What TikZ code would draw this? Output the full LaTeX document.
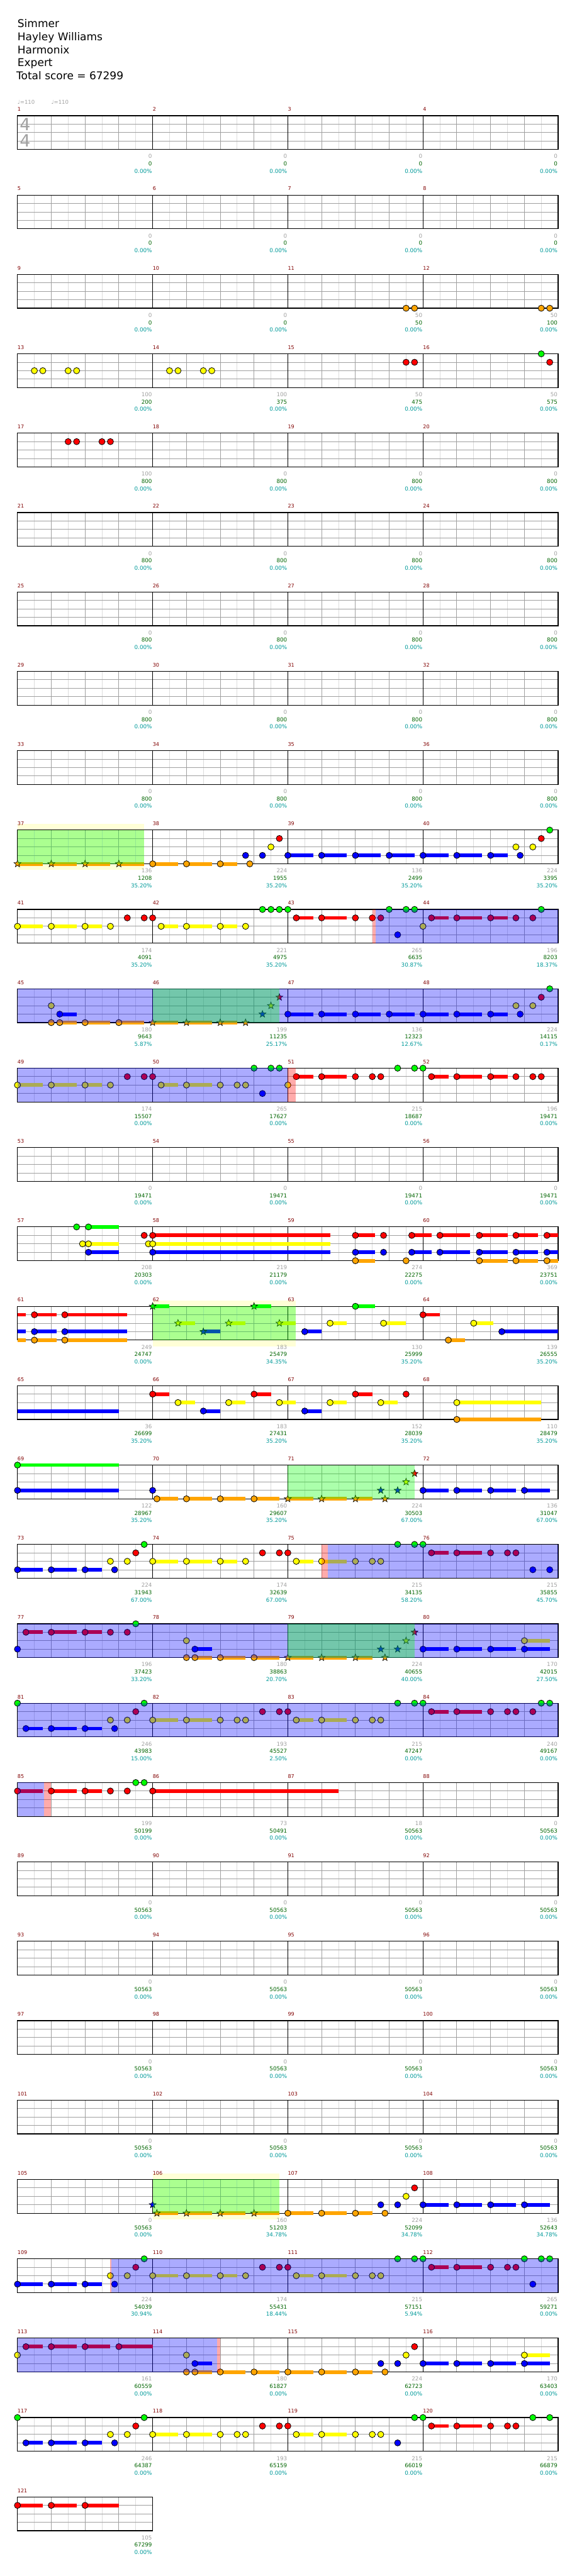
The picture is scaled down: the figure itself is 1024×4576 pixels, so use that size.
\documentclass[tikz,border=0pt]{standalone}
\usepackage{fontspec}
\setmainfont{DejaVu Sans}
\pgfdeclarelayer{yb}\pgfdeclarelayer{grid}\pgfdeclarelayer{sus}\pgfdeclarelayer{over}
\pgfsetlayers{yb,grid,sus,main,over}
\definecolor{nG}{RGB}{0,255,0}
\definecolor{nR}{RGB}{255,0,0}
\definecolor{nY}{RGB}{255,255,0}
\definecolor{nB}{RGB}{0,0,255}
\definecolor{nO}{RGB}{255,165,0}
\definecolor{lgray}{RGB}{160,160,160}
\definecolor{llgray}{RGB}{220,220,220}
\definecolor{mred}{RGB}{128,0,0}
\definecolor{sgreen}{RGB}{0,100,0}
\definecolor{steal}{RGB}{0,153,153}
\definecolor{tgray}{RGB}{160,160,160}
\definecolor{ybcol}{RGB}{255,255,215}
\newcommand\setm[1]{\pgfmathsetmacro\mX{31+240*mod(#1-1,4)}\pgfmathsetmacro\mT{205.5+141*floor((#1-1)/4)}}
\newcommand\nt[4]{\setm{#1}\draw[line width=0.9pt,fill=#4] ({\mX+15*#2},{\mT+15*#3}) circle (5.5);}
\newcommand\su[5]{\setm{#1}\begin{pgfonlayer}{sus}\fill[#5] ({\mX+15*#2},{\mT+15*#4-3.3}) rectangle ({\mX+15*#3},{\mT+15*#4+3.3});\end{pgfonlayer}}
\newcommand\stn[4]{\setm{#1}\draw[line width=0.7pt,fill=#4] ({\mX+15*#2},{\mT+15*#3}) +(-90:6.5) -- +(-54:2.7) -- +(-18:6.5) -- +(18:2.7) -- +(54:6.5) -- +(90:2.7) -- +(126:6.5) -- +(162:2.7) -- +(198:6.5) -- +(234:2.7) -- cycle;}
\newcommand\ov[4]{\setm{#1}\begin{pgfonlayer}{over}\fill[#4,opacity=0.33] ({\mX+15*#2},\mT) rectangle ({\mX+15*#3},{\mT+60});\end{pgfonlayer}}
\newcommand\yb[3]{\setm{#1}\begin{pgfonlayer}{yb}\fill[ybcol] ({\mX+15*#2},{\mT-10.7}) rectangle ({\mX+15*#3},{\mT+71});\end{pgfonlayer}}
\newcommand\nG[2]{\nt{#1}{#2}{0}{nG}}
\newcommand\nR[2]{\nt{#1}{#2}{1}{nR}}
\newcommand\nY[2]{\nt{#1}{#2}{2}{nY}}
\newcommand\nB[2]{\nt{#1}{#2}{3}{nB}}
\newcommand\nO[2]{\nt{#1}{#2}{4}{nO}}
\newcommand\sG[3]{\su{#1}{#2}{#3}{0}{nG}}
\newcommand\sR[3]{\su{#1}{#2}{#3}{1}{nR}}
\newcommand\sY[3]{\su{#1}{#2}{#3}{2}{nY}}
\newcommand\sB[3]{\su{#1}{#2}{#3}{3}{nB}}
\newcommand\sO[3]{\su{#1}{#2}{#3}{4}{nO}}
\newcommand\xG[2]{\stn{#1}{#2}{0}{nG}}
\newcommand\xR[2]{\stn{#1}{#2}{1}{nR}}
\newcommand\xY[2]{\stn{#1}{#2}{2}{nY}}
\newcommand\xB[2]{\stn{#1}{#2}{3}{nB}}
\newcommand\xO[2]{\stn{#1}{#2}{4}{nO}}
\newcommand\grow[2]{\setm{#1}%
\begin{pgfonlayer}{grid}%
\pgfmathtruncatemacro\gnl{8*#2-1}%
\pgfmathtruncatemacro\gnb{4*#2-1}%
\foreach \k in {1,3,...,\gnl} {\draw[llgray,line width=1pt] ({\mX+30*\k},\mT) -- ({\mX+30*\k},{\mT+60});}
\foreach \j in {1,2,3} {\draw[lgray,line width=1pt] (\mX,{\mT+15*\j}) -- ({\mX+240*#2},{\mT+15*\j});}
\foreach \k in {1,...,\gnb} {\draw[lgray,line width=1pt] ({\mX+60*\k},\mT) -- ({\mX+60*\k},{\mT+60});}
\ifnum#2>1 \pgfmathtruncatemacro\gnm{#2-1}\foreach \k in {1,...,\gnm} {\draw[black,line width=1pt] ({\mX+240*\k},\mT) -- ({\mX+240*\k},{\mT+60});}\fi
\draw[black,line width=1.3pt] (\mX,\mT) rectangle ({\mX+240*#2},{\mT+60});
\end{pgfonlayer}}
\tikzset{lbl/.style={inner sep=0pt,font=\fontsize{9.8}{10}\selectfont},
 mnum/.style={inner sep=0pt,text=mred,font=\fontsize{9}{10}\selectfont},
 ttl/.style={inner sep=0pt,anchor=base west,font=\fontsize{19}{20}\selectfont}}
\newcommand\lab[4]{\setm{#1}%
\node[lbl,text=tgray,anchor=base east] (a#1) at ({\mX+239},{\mT+76}) {#2};
\node[lbl,text=sgreen,anchor=base east] (b#1) at ({\mX+239},{\mT+89}) {#3};
\node[lbl,text=steal,anchor=base east] (c#1) at ({\mX+239},{\mT+102}) {#4\%};
\node[mnum,anchor=base west] (m#1) at (\mX,{\mT-8}) {#1};}
\begin{document}
\begin{tikzpicture}[x=1pt,y=-1pt]
\useasboundingbox (0,0) rectangle (1024,4576);
% title
\node[ttl] (t1) at (31,49) {Simmer};
\node[ttl] (t2) at (31,72) {Hayley Williams};
\node[ttl] (t3) at (31,95) {Harmonix};
\node[ttl] (t4) at (31,118) {Expert};
\node[ttl] (t5) at (29,141) {Total score = 67299};
\node[lbl,text=tgray,anchor=base west,font=\fontsize{9.5}{10}\selectfont] (tp1) at (31,185) {♩=110};
\node[lbl,text=tgray,anchor=base west,font=\fontsize{9.5}{10}\selectfont] (tp2) at (91,185) {♩=110};
\node[text=tgray,inner sep=0pt,font=\fontsize{30}{30}\selectfont] (ts1) at (44.5,220.5) {4};
\node[text=tgray,inner sep=0pt,font=\fontsize{30}{30}\selectfont] (ts2) at (44.5,250) {4};
% grids
\foreach \r in {0,...,29} {\grow{\r*4+1}{4}}
\grow{121}{1}
% labels
\foreach \m in {1,...,10} {\lab{\m}{0}{0}{0.00}}
\lab{11}{50}{50}{0.00}\lab{12}{50}{100}{0.00}
\lab{13}{100}{200}{0.00}\lab{14}{100}{375}{0.00}\lab{15}{50}{475}{0.00}\lab{16}{50}{575}{0.00}
\lab{17}{100}{800}{0.00}
\foreach \m in {18,...,36} {\lab{\m}{0}{800}{0.00}}
\lab{37}{136}{1208}{35.20}\lab{38}{224}{1955}{35.20}\lab{39}{136}{2499}{35.20}\lab{40}{224}{3395}{35.20}
\lab{41}{174}{4091}{35.20}\lab{42}{221}{4975}{35.20}\lab{43}{265}{6635}{30.87}\lab{44}{196}{8203}{18.37}
\lab{45}{180}{9643}{5.87}\lab{46}{199}{11235}{25.17}\lab{47}{136}{12323}{12.67}\lab{48}{224}{14115}{0.17}
\lab{49}{174}{15507}{0.00}\lab{50}{265}{17627}{0.00}\lab{51}{215}{18687}{0.00}\lab{52}{196}{19471}{0.00}
\foreach \m in {53,...,56} {\lab{\m}{0}{19471}{0.00}}
\lab{57}{208}{20303}{0.00}\lab{58}{219}{21179}{0.00}\lab{59}{274}{22275}{0.00}\lab{60}{369}{23751}{0.00}
\lab{61}{249}{24747}{0.00}\lab{62}{183}{25479}{34.35}\lab{63}{130}{25999}{35.20}\lab{64}{139}{26555}{35.20}
\lab{65}{36}{26699}{35.20}\lab{66}{183}{27431}{35.20}\lab{67}{152}{28039}{35.20}\lab{68}{110}{28479}{35.20}
\lab{69}{122}{28967}{35.20}\lab{70}{160}{29607}{35.20}\lab{71}{224}{30503}{67.00}\lab{72}{136}{31047}{67.00}
\lab{73}{224}{31943}{67.00}\lab{74}{174}{32639}{67.00}\lab{75}{215}{34135}{58.20}\lab{76}{215}{35855}{45.70}
\lab{77}{196}{37423}{33.20}\lab{78}{180}{38863}{20.70}\lab{79}{224}{40655}{40.00}\lab{80}{170}{42015}{27.50}
\lab{81}{246}{43983}{15.00}\lab{82}{193}{45527}{2.50}\lab{83}{215}{47247}{0.00}\lab{84}{240}{49167}{0.00}
\lab{85}{199}{50199}{0.00}\lab{86}{73}{50491}{0.00}\lab{87}{18}{50563}{0.00}\lab{88}{0}{50563}{0.00}
\foreach \m in {89,...,105} {\lab{\m}{0}{50563}{0.00}}
\lab{106}{160}{51203}{34.78}\lab{107}{224}{52099}{34.78}\lab{108}{136}{52643}{34.78}
\lab{109}{224}{54039}{30.94}\lab{110}{174}{55431}{18.44}\lab{111}{215}{57151}{5.94}\lab{112}{265}{59271}{0.00}
\lab{113}{161}{60559}{0.00}\lab{114}{180}{61827}{0.00}\lab{115}{224}{62723}{0.00}\lab{116}{170}{63403}{0.00}
\lab{117}{246}{64387}{0.00}\lab{118}{193}{65159}{0.00}\lab{119}{215}{66019}{0.00}\lab{120}{215}{66879}{0.00}
\lab{121}{105}{67299}{0.00}
% ---- notes ----
\nO{11}{14}\nO{11}{15}\nO{12}{14}\nO{12}{15}
\nY{13}{2}\nY{13}{3}\nY{13}{6}\nY{13}{7}
\nY{14}{2}\nY{14}{3}\nY{14}{6}\nY{14}{7}
\nR{15}{14}\nR{15}{15}
\nG{16}{14}\nR{16}{15}
\nR{17}{6}\nR{17}{7}\nR{17}{10}\nR{17}{11}
% row 10
\yb{37}{0}{15}\ov{37}{0}{15}{nG}
\sO{37}{0}{3}\sO{37}{4}{7}\sO{37}{8}{11}\sO{37}{12}{15}
\xO{37}{0}\xO{37}{4}\xO{37}{8}\xO{37}{12}
\sO{38}{0}{3}\sO{38}{4}{7}\sO{38}{8}{10}\nO{38}{0}\nO{38}{4}\nO{38}{8}\nO{38}{11.5}\nB{38}{11}\nB{38}{13}\nY{38}{14}\nR{38}{15}
\sB{39}{0}{3}\sB{39}{4}{7}\sB{39}{8}{11}\sB{39}{12}{15}\nB{39}{0}\nB{39}{4}\nB{39}{8}\nB{39}{12}
\sB{40}{0}{3}\sB{40}{4}{7}\sB{40}{8}{10}\nB{40}{0}\nB{40}{4}\nB{40}{8}\nY{40}{11}\nB{40}{11.5}\nY{40}{13}\nR{40}{14}\nG{40}{15}
% row 11
\sY{41}{0}{3}\sY{41}{4}{7}\sY{41}{8}{10}\nY{41}{0}\nY{41}{4}\nY{41}{8}\nY{41}{11}\nR{41}{13}\nR{41}{15}
\nR{42}{0}\sY{42}{1}{3}\sY{42}{4}{7}\sY{42}{8}{10}\nY{42}{1}\nY{42}{4}\nY{42}{8}\nY{42}{11}\nG{42}{13}\nG{42}{14}\nG{42}{15}
\nG{43}{0}\sR{43}{1}{3}\sR{43}{4}{7}\nR{43}{1}\nR{43}{4}\nR{43}{8}\nR{43}{10}\nR{43}{11}\nG{43}{12}\nB{43}{13}\nG{43}{14}\nG{43}{15}
\ov{43}{10}{10.4}{nR}\ov{43}{10.4}{32}{nB}
\nY{44}{0}\sR{44}{1}{3}\sR{44}{4}{7}\sR{44}{8}{10}\nR{44}{1}\nR{44}{4}\nR{44}{8}\nR{44}{11}\nR{44}{13}\nG{44}{14}
% row 12
\ov{45}{0}{64}{nB}\ov{46}{0}{15}{nG}
\nY{45}{4}\nO{45}{4}\sB{45}{5}{7}\sO{45}{5}{7}\nB{45}{5}\nO{45}{5}\sO{45}{8}{11}\nO{45}{8}\sO{45}{12}{15}\nO{45}{12}
\sO{46}{0}{3}\sO{46}{4}{7}\sO{46}{8}{10}\xO{46}{0}\xO{46}{4}\xO{46}{8}\xO{46}{11}\xB{46}{13}\xY{46}{14}\xR{46}{15}
\sB{47}{0}{3}\sB{47}{4}{7}\sB{47}{8}{11}\sB{47}{12}{15}\nB{47}{0}\nB{47}{4}\nB{47}{8}\nB{47}{12}
\sB{48}{0}{3}\sB{48}{4}{7}\sB{48}{8}{10}\nB{48}{0}\nB{48}{4}\nB{48}{8}\nY{48}{11}\nB{48}{11.5}\nY{48}{13}\nR{48}{14}\nG{48}{15}
% row 13
\ov{49}{0}{32}{nB}\ov{51}{0}{0.93}{nR}
\sY{49}{0}{3}\sY{49}{4}{7}\sY{49}{8}{10}\nY{49}{0}\nY{49}{4}\nY{49}{8}\nY{49}{11}\nR{49}{13}\nR{49}{15}
\nR{50}{0}\sY{50}{1}{3}\sY{50}{4}{7}\nY{50}{1}\nY{50}{4}\nY{50}{8}\nY{50}{10}\nY{50}{11}\nG{50}{12}\nB{50}{13}\nG{50}{14}\nG{50}{15}
\nY{51}{0}\sR{51}{1}{3}\sR{51}{4}{7}\nR{51}{1}\nR{51}{4}\nR{51}{8}\nR{51}{10}\nR{51}{11}\nG{51}{13}\nG{51}{15}
\nG{52}{0}\sR{52}{1}{3}\sR{52}{4}{7}\sR{52}{8}{10}\nR{52}{1}\nR{52}{4}\nR{52}{8}\nR{52}{11}\nR{52}{13}\nR{52}{14}
% row 15
\nG{57}{7}\nY{57}{7.7}\sG{57}{8.4}{12}\sY{57}{8.4}{12}\sB{57}{8.4}{12}\nG{57}{8.4}\nY{57}{8.4}\nB{57}{8.4}\nR{57}{15}\nY{57}{15.5}
\sR{58}{0}{21}\sY{58}{0}{21}\sB{58}{0}{21}\nR{58}{0}\nY{58}{0}\nB{58}{0}
\sR{59}{8}{10.33}\sB{59}{8}{10.33}\sO{59}{8}{10.33}\nR{59}{8}\nB{59}{8}\nO{59}{8}\nR{59}{11.33}\nB{59}{11.33}\nO{59}{14}
\sR{59}{14.67}{17}\sB{59}{14.67}{17}\nR{59}{14.67}\nB{59}{14.67}
\sR{60}{2}{5.6}\sB{60}{2}{5.6}\nR{60}{2}\nB{60}{2}
\sR{60}{6.67}{10}\sB{60}{6.67}{10}\sO{60}{6.67}{10}\nR{60}{6.67}\nB{60}{6.67}\nO{60}{6.67}
\sR{60}{11}{13.6}\sB{60}{11}{13.6}\sO{60}{11}{13.6}\nR{60}{11}\nB{60}{11}\nO{60}{11}
\sR{60}{14.67}{16}\sB{60}{14.67}{16}\sO{60}{14.67}{16}\nR{60}{14.67}\nB{60}{14.67}\nO{60}{14.67}
% row 16
\sR{61}{0}{1}\sB{61}{0}{1}\sO{61}{0}{1}
\sR{61}{2}{4.6}\sB{61}{2}{4.6}\sO{61}{2}{4.6}\nR{61}{2}\nB{61}{2}\nO{61}{2}
\sR{61}{5.6}{13}\sB{61}{5.6}{13}\sO{61}{5.6}{13}\nR{61}{5.6}\nB{61}{5.6}\nO{61}{5.6}
\yb{62}{0}{16.93}\ov{62}{0}{16.93}{nG}
\sG{62}{0}{2}\xG{62}{0}\sY{62}{3}{5}\xY{62}{3}\sB{62}{6}{8}\xB{62}{6}\sY{62}{9}{11}\xY{62}{9}\sG{62}{12}{14}\xG{62}{12}\sY{62}{15}{16.93}\xY{62}{15}
\sB{63}{2}{4}\nB{63}{2}\sY{63}{5}{7}\nY{63}{5}\sG{63}{8}{10.33}\nG{63}{8}\sY{63}{11.33}{14}\nY{63}{11.33}
\sR{64}{0}{2}\nR{64}{0}\sO{64}{3}{5}\nO{64}{3}\sY{64}{6}{8.33}\nY{64}{6}\sB{64}{9.33}{16}\nB{64}{9.33}
% row 17
\sB{65}{0}{12}
\sR{66}{0}{2}\nR{66}{0}\sY{66}{3}{5}\nY{66}{3}\sB{66}{6}{8}\nB{66}{6}\sY{66}{9}{11}\nY{66}{9}\sR{66}{12}{14}\nR{66}{12}\sY{66}{15}{16.93}\nY{66}{15}
\sB{67}{2}{4}\nB{67}{2}\sY{67}{5}{7}\nY{67}{5}\sR{67}{8}{10}\nR{67}{8}\sY{67}{11}{13}\nY{67}{11}\nR{67}{14}
\sY{68}{4}{14}\nY{68}{4}\sO{68}{4}{14}\nO{68}{4}
% row 18
\sG{69}{0}{12}\nG{69}{0}\sB{69}{0}{12}\nB{69}{0}
\nB{70}{0}\sO{70}{0.5}{3}\nO{70}{0.5}\sO{70}{4}{7}\nO{70}{4}\sO{70}{8}{11}\nO{70}{8}\sO{70}{12}{15}\nO{70}{12}
\ov{71}{0}{15}{nG}
\sO{71}{0}{3}\xO{71}{0}\sO{71}{4}{7}\xO{71}{4}\sO{71}{8}{10}\xO{71}{8}\xB{71}{11}\xO{71}{11.5}\xB{71}{13}\xY{71}{14}\xR{71}{15}
\sB{72}{0}{3}\nB{72}{0}\sB{72}{4}{7}\nB{72}{4}\sB{72}{8}{11}\nB{72}{8}\sB{72}{12}{15}\nB{72}{12}
% row 19
\sB{73}{0}{3}\nB{73}{0}\sB{73}{4}{7}\nB{73}{4}\sB{73}{8}{10}\nB{73}{8}\nY{73}{11}\nB{73}{11.5}\nY{73}{13}\nR{73}{14}\nG{73}{15}
\sY{74}{0}{3}\nY{74}{0}\sY{74}{4}{7}\nY{74}{4}\sY{74}{8}{10}\nY{74}{8}\nY{74}{11}\nR{74}{13}\nR{74}{15}
\nR{75}{0}\sY{75}{1}{3}\nY{75}{1}\sY{75}{4}{7}\nY{75}{4}\nY{75}{8}\nY{75}{10}\nY{75}{11}\nG{75}{13}\nG{75}{15}
\ov{75}{4}{4.7}{nR}\ov{75}{4.7}{32}{nB}
\nG{76}{0}\sR{76}{1}{3}\nR{76}{1}\sR{76}{4}{7}\nR{76}{4}\nR{76}{8}\nR{76}{10}\nR{76}{11}\nB{76}{13}\nB{76}{15}
% row 20
\ov{77}{0}{64}{nB}\ov{79}{0}{15}{nG}
\nB{77}{0}\sR{77}{1}{3}\nR{77}{1}\sR{77}{4}{7}\nR{77}{4}\sR{77}{8}{10}\nR{77}{8}\nR{77}{11}\nR{77}{13}\nG{77}{14}
\nY{78}{4}\nO{78}{4}\sB{78}{5}{7}\nB{78}{5}\sO{78}{5}{7}\nO{78}{5}\sO{78}{8}{11}\nO{78}{8}\sO{78}{12}{15}\nO{78}{12}
\sO{79}{0}{3}\xO{79}{0}\sO{79}{4}{7}\xO{79}{4}\sO{79}{8}{10}\xO{79}{8}\xB{79}{11}\xO{79}{11.5}\xB{79}{13}\xY{79}{14}\xR{79}{15}
\sB{80}{0}{3}\nB{80}{0}\sB{80}{4}{7}\nB{80}{4}\sB{80}{8}{11}\nB{80}{8}\sB{80}{12}{15}\nB{80}{12}\sY{80}{12}{15}\nY{80}{12}
% row 21
\ov{81}{0}{64}{nB}
\nG{81}{0}\sB{81}{1}{3}\nB{81}{1}\sB{81}{4}{7}\nB{81}{4}\sB{81}{8}{10}\nB{81}{8}\nY{81}{11}\nB{81}{11.5}\nY{81}{13}\nR{81}{14}\nG{81}{15}
\sY{82}{0}{3}\nY{82}{0}\sY{82}{4}{7}\nY{82}{4}\nY{82}{8}\nY{82}{10}\nY{82}{11}\nR{82}{13}\nR{82}{15}
\nR{83}{0}\sY{83}{1}{3}\nY{83}{1}\sY{83}{4}{7}\nY{83}{4}\nY{83}{8}\nY{83}{10}\nY{83}{11}\nG{83}{13}\nG{83}{15}
\nG{84}{0}\sR{84}{1}{3}\nR{84}{1}\sR{84}{4}{7}\nR{84}{4}\nR{84}{8}\nR{84}{10}\nR{84}{11}\nR{84}{13}\nG{84}{14}\nG{84}{15}
% row 22
\ov{85}{0}{3.18}{nB}\ov{85}{3.18}{4}{nR}
\sR{85}{0}{3}\nR{85}{0}\sR{85}{4}{7}\nR{85}{4}\sR{85}{8}{10}\nR{85}{8}\nR{85}{11}\nR{85}{13}\nG{85}{14}\nG{85}{15}
\sR{86}{0}{22}\nR{86}{0}
% row 27
\yb{106}{0}{15}\ov{106}{0}{15}{nG}
\xB{106}{0}\sO{106}{0.5}{3}\xO{106}{0.5}\sO{106}{4}{7}\xO{106}{4}\sO{106}{8}{11}\xO{106}{8}\sO{106}{12}{15}\xO{106}{12}
\sO{107}{0}{3}\nO{107}{0}\sO{107}{4}{7}\nO{107}{4}\sO{107}{8}{10}\nO{107}{8}\nB{107}{11}\nO{107}{11.5}\nB{107}{13}\nY{107}{14}\nR{107}{15}
\sB{108}{0}{3}\nB{108}{0}\sB{108}{4}{7}\nB{108}{4}\sB{108}{8}{11}\nB{108}{8}\sB{108}{12}{15}\nB{108}{12}
% row 28
\ov{109}{11}{11.1}{nR}\ov{109}{11.1}{64}{nB}
\sB{109}{0}{3}\nB{109}{0}\sB{109}{4}{7}\nB{109}{4}\sB{109}{8}{10}\nB{109}{8}\nY{109}{11}\nB{109}{11.5}\nY{109}{13}\nR{109}{14}\nG{109}{15}
\sY{110}{0}{3}\nY{110}{0}\sY{110}{4}{7}\nY{110}{4}\sY{110}{8}{10}\nY{110}{8}\nY{110}{11}\nR{110}{13}\nR{110}{15}
\nR{111}{0}\sY{111}{1}{3}\nY{111}{1}\sY{111}{4}{7}\nY{111}{4}\nY{111}{8}\nY{111}{10}\nY{111}{11}\nG{111}{13}\nG{111}{15}
\nG{112}{0}\sR{112}{1}{3}\nR{112}{1}\sR{112}{4}{7}\nR{112}{4}\nR{112}{8}\nR{112}{10}\nR{112}{11}\nG{112}{12}\nB{112}{13}\nG{112}{14}\nG{112}{15}
% row 29
\ov{113}{0}{23.64}{nB}\ov{113}{23.64}{24}{nR}
\nY{113}{0}\sR{113}{1}{3}\nR{113}{1}\sR{113}{4}{7}\nR{113}{4}\sR{113}{8}{11}\nR{113}{8}\sR{113}{12}{16}\nR{113}{12}
\nY{114}{4}\nO{114}{4}\sB{114}{5}{7}\nB{114}{5}\sO{114}{5}{7}\nO{114}{5}\sO{114}{8}{11}\nO{114}{8}\sO{114}{12}{15}\nO{114}{12}
\sO{115}{0}{3}\nO{115}{0}\sO{115}{4}{7}\nO{115}{4}\sO{115}{8}{10}\nO{115}{8}\nB{115}{11}\nO{115}{11.5}\nB{115}{13}\nY{115}{14}\nR{115}{15}
\sB{116}{0}{3}\nB{116}{0}\sB{116}{4}{7}\nB{116}{4}\sB{116}{8}{11}\nB{116}{8}\sB{116}{12}{15}\nB{116}{12}\sY{116}{12}{15}\nY{116}{12}
% row 30
\nG{117}{0}\sB{117}{1}{3}\nB{117}{1}\sB{117}{4}{7}\nB{117}{4}\sB{117}{8}{10}\nB{117}{8}\nY{117}{11}\nB{117}{11.5}\nY{117}{13}\nR{117}{14}\nG{117}{15}
\sY{118}{0}{3}\nY{118}{0}\sY{118}{4}{7}\nY{118}{4}\nY{118}{8}\nY{118}{10}\nY{118}{11}\nR{118}{13}\nR{118}{15}
\nR{119}{0}\sY{119}{1}{3}\nY{119}{1}\sY{119}{4}{7}\nY{119}{4}\nY{119}{8}\nY{119}{10}\nY{119}{11}\nB{119}{13}\nG{119}{15}
\nG{120}{0}\sR{120}{1}{3}\nR{120}{1}\sR{120}{4}{7}\nR{120}{4}\nR{120}{8}\nR{120}{10}\nR{120}{11}\nG{120}{13}\nG{120}{15}
% row 31
\sR{121}{0}{3}\nR{121}{0}\sR{121}{4}{7}\nR{121}{4}\sR{121}{8}{12}\nR{121}{8}
\end{tikzpicture}
\end{document}
